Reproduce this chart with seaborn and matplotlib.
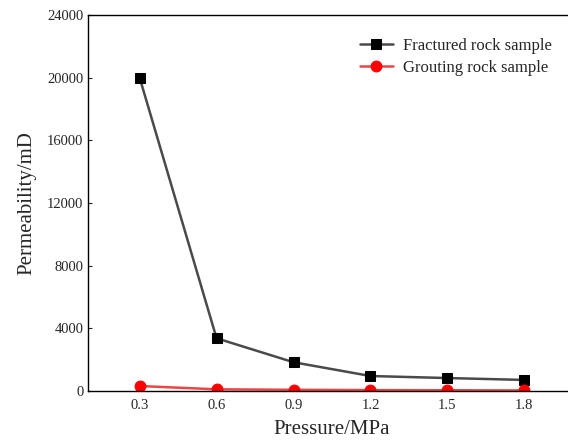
import numpy as np
import pandas as pd
import matplotlib
matplotlib.use("Agg")
import matplotlib.pyplot as plt
import seaborn as sns

pressure = [0.3, 0.6, 0.9, 1.2, 1.5, 1.8]
fractured = [20000, 3350, 1820, 940, 810, 690]
grouting = [300, 90, 60, 40, 30, 20]

sns.set_style("ticks")
plt.rcParams["font.family"] = ["Liberation Serif", "DejaVu Serif"]

fig = plt.figure(figsize=(5.68, 4.43), dpi=100)
ax = fig.add_axes([0.1555, 0.118, 0.858, 0.848])

sns.lineplot(x=pressure, y=fractured, ax=ax, color="#4a4a4a", linewidth=1.8,
             marker="s", markersize=7.2, markerfacecolor="black",
             markeredgecolor="black", label="Fractured rock sample")
sns.lineplot(x=pressure, y=grouting, ax=ax, color="#eb4545", linewidth=1.8,
             marker="o", markersize=7.8, markerfacecolor="red",
             markeredgecolor="red", label="Grouting rock sample")

ax.set_xlim(0.1, 2.0)
ax.set_ylim(0, 24000)
ax.set_xticks(pressure)
ax.set_xticklabels([f"{p:.1f}" for p in pressure])
ax.set_yticks(np.arange(0, 24001, 4000))
ax.tick_params(axis="x", length=0, labelsize=10.5, pad=6)
ax.tick_params(axis="y", direction="in", length=3, labelsize=10.5)
ax.spines["right"].set_visible(False)
for s in ["left", "bottom", "top"]:
    ax.spines[s].set_linewidth(1.0)
    ax.spines[s].set_color("black")

ax.set_xlabel("Pressure/MPa", fontsize=15, labelpad=6)
ax.set_ylabel("Permeability/mD", fontsize=15, labelpad=8)

ax.legend(loc="upper right", bbox_to_anchor=(0.982, 0.98), frameon=False,
          fontsize=12, handlelength=2.0, handletextpad=0.6, labelspacing=0.4)

fig.savefig("out.png", dpi=100)
